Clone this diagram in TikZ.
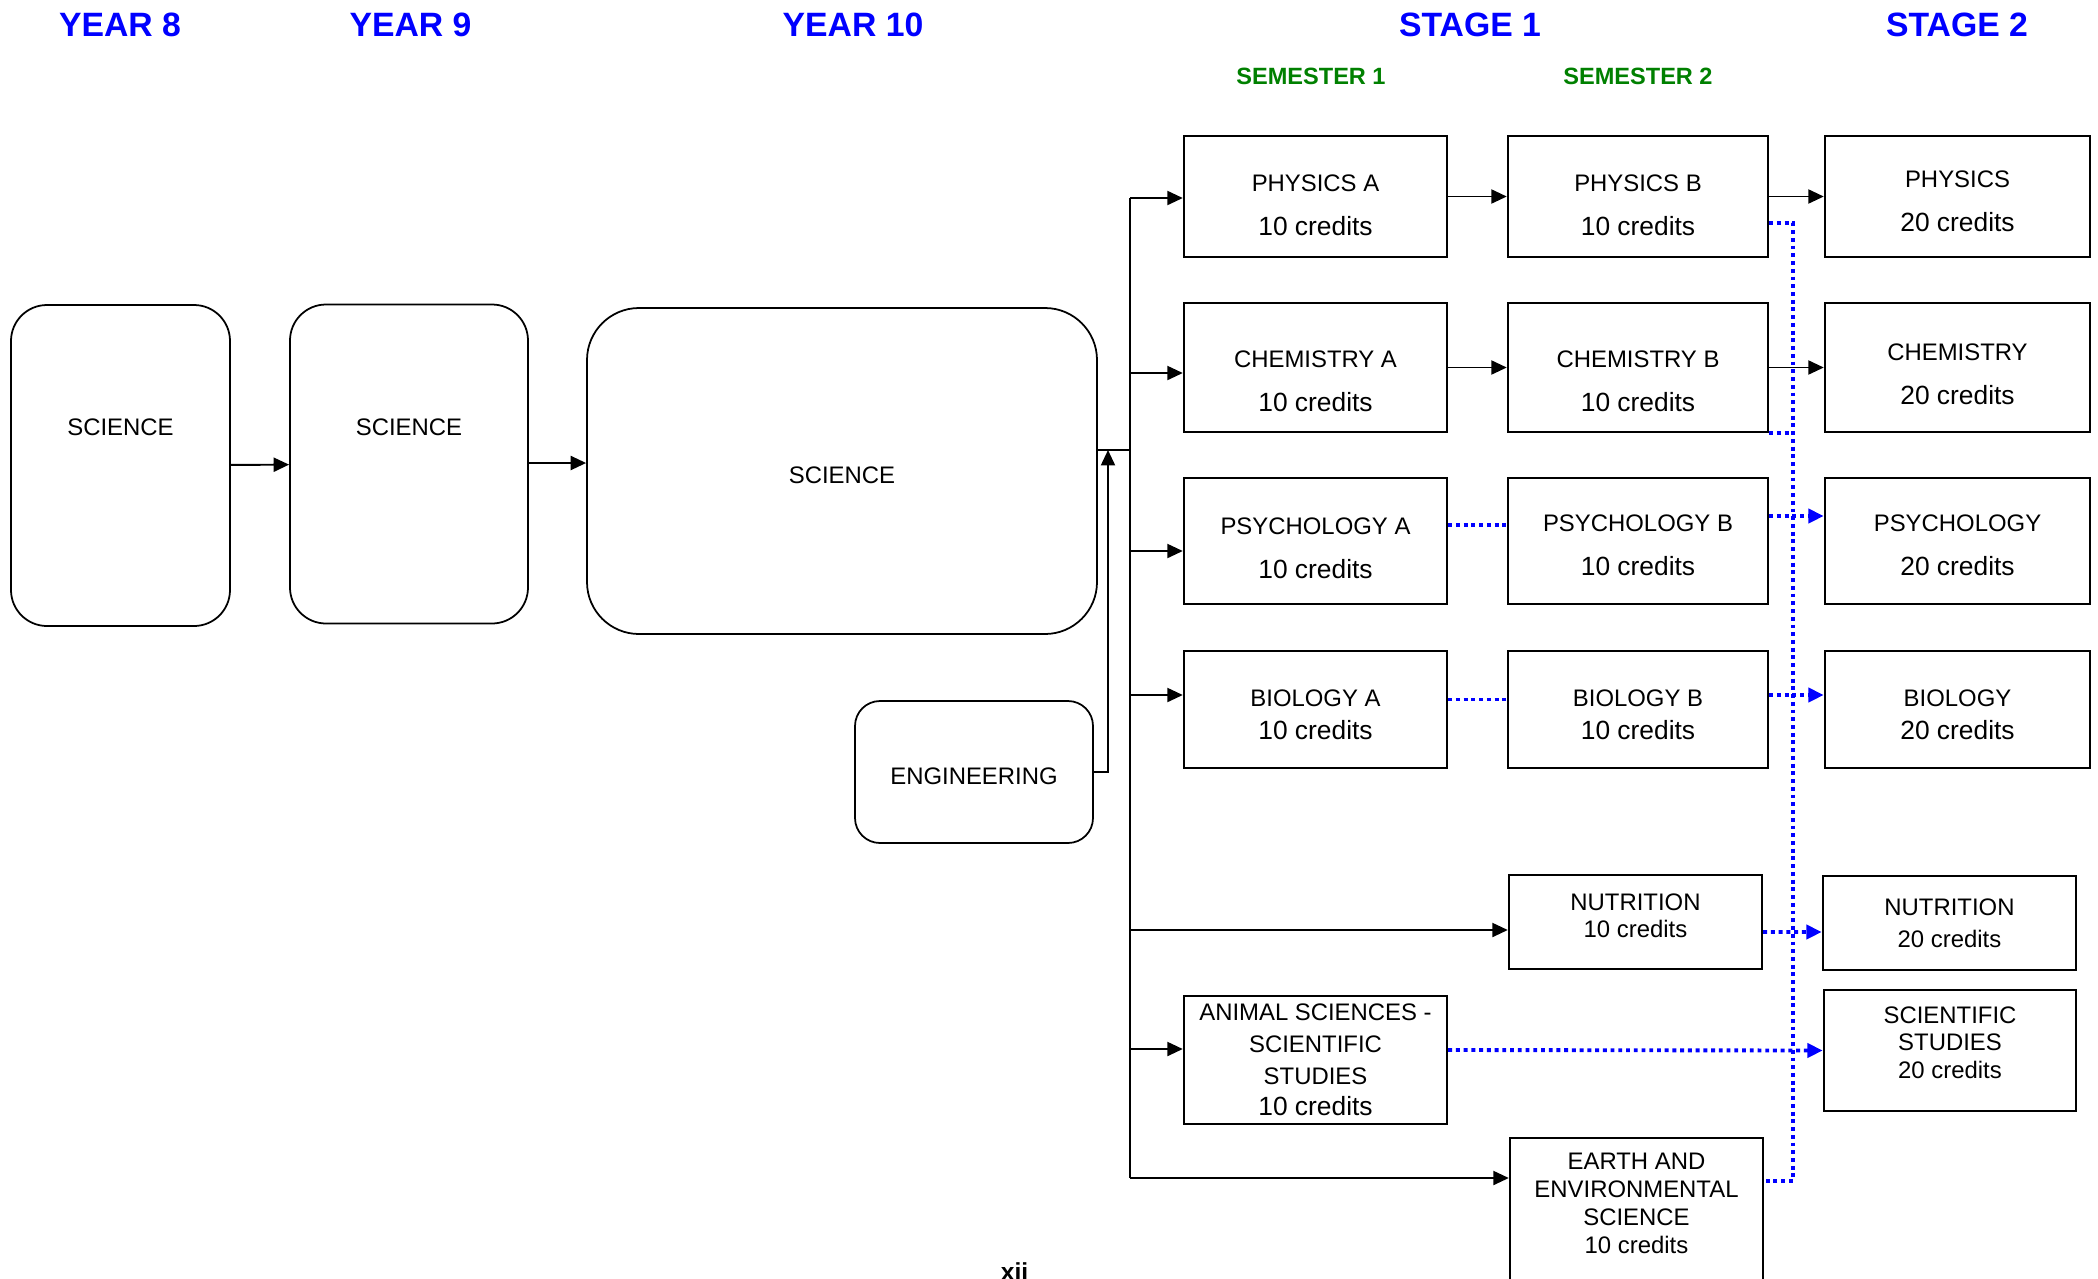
\documentclass[tikz,border=0pt]{standalone}
\usepackage{fontspec}
\setmainfont{Liberation Sans}
\usepackage{xcolor}
\usepackage{tikz}
\usetikzlibrary{positioning,arrows.meta}

\definecolor{headblue}{RGB}{0,0,255}
\definecolor{semgreen}{RGB}{0,128,0}
\newcommand{\credfont}{\fontsize{7.5}{9}\selectfont}

\begin{document}
\begin{tikzpicture}[
  yearbox/.style={draw, line width=0.5pt, rounded corners=#1, inner sep=0pt, font=\fontsize{6.8}{8.2}\selectfont},
  unitbox/.style={draw, line width=0.7pt, align=center, inner sep=0pt, font=\fontsize{6.8}{8.2}\selectfont},
  plain/.style={align=center, inner sep=0pt, font=\fontsize{6.8}{8.2}\selectfont},
  head/.style={text=headblue, inner sep=0pt, font=\fontsize{9.6}{11}\selectfont\bfseries},
  semhead/.style={text=semgreen, inner sep=0pt, font=\fontsize{6.7}{8}\selectfont\bfseries},
  link/.style={line width=0.55pt, -{Triangle[length=4.4pt,width=4pt]}},
  dots/.style={headblue, line width=1.1pt, dash pattern=on 1.1pt off 1.1pt},
  dotlink/.style={dots, -{Triangle[length=4.4pt,width=4pt]}},
  lift/.style={text depth=#1},
  sink/.style={text height=#1}
]
\fill[white] (0,0) rectangle (20.98,-12.78);
\useasboundingbox (0,0) rectangle (20.98,-12.78);

% headings
\node[head] (yr8) at (1.20,-0.245) {YEAR 8};
\node[head] (yr9) at (4.105,-0.245) {YEAR 9};
\node[head] (yr10) at (8.53,-0.245) {YEAR 10};
\node[head] (st1) at (14.70,-0.25) {STAGE 1};
\node[head] (st2) at (19.57,-0.25) {STAGE 2};
\node[semhead] (sem1) at (13.11,-0.765) {SEMESTER 1};
\node[semhead] (sem2) at (16.38,-0.765) {SEMESTER 2};

% school years
\node[yearbox=0.36cm, minimum width=2.19cm, minimum height=3.21cm] (y8) at (1.205,-4.655) {};
\node[plain] (y8t) at (1.205,-4.27) {SCIENCE};
\node[yearbox=0.36cm, minimum width=2.38cm, minimum height=3.19cm] (y9) at (4.09,-4.64) {};
\node[plain] (y9t) at (4.09,-4.27) {SCIENCE};
\node[yearbox=0.52cm, minimum width=5.10cm, minimum height=3.26cm, sink=7.3pt] (y10) at (8.42,-4.71) {SCIENCE};
\node[yearbox=0.25cm, minimum width=2.38cm, minimum height=1.42cm, sink=7.3pt] (eng) at (9.74,-7.72) {ENGINEERING};

% stage 1, semester 1
\node[unitbox, minimum width=2.63cm, minimum height=1.21cm, sink=22pt] (physA) at (13.155,-1.965) {PHYSICS A\\[4.3pt]{\credfont 10 credits}};
\node[unitbox, minimum width=2.63cm, minimum height=1.29cm, sink=25pt] (chemA) at (13.155,-3.675) {CHEMISTRY A\\[4.3pt]{\credfont 10 credits}};
\node[unitbox, minimum width=2.63cm, minimum height=1.26cm, sink=21.2pt] (psychA) at (13.155,-5.41) {PSYCHOLOGY A\\[4.3pt]{\credfont 10 credits}};
\node[unitbox, minimum width=2.63cm, minimum height=1.17cm, sink=17pt] (bioA) at (13.155,-7.095) {BIOLOGY A\\[1.2pt]{\credfont 10 credits}};
\node[unitbox, minimum width=2.63cm, minimum height=1.28cm] (animA) at (13.155,-10.60) {ANIMAL SCIENCES -\\[0.9pt]SCIENTIFIC\\[0.9pt]STUDIES\\[0.5pt]{\credfont 10 credits}};

% stage 1, semester 2
\node[unitbox, minimum width=2.60cm, minimum height=1.21cm, sink=22pt] (physB) at (16.38,-1.965) {PHYSICS B\\[4.3pt]{\credfont 10 credits}};
\node[unitbox, minimum width=2.60cm, minimum height=1.29cm, sink=25pt] (chemB) at (16.38,-3.675) {CHEMISTRY B\\[4.3pt]{\credfont 10 credits}};
\node[unitbox, minimum width=2.60cm, minimum height=1.26cm, sink=19.8pt] (psychB) at (16.38,-5.41) {PSYCHOLOGY B\\[4.3pt]{\credfont 10 credits}};
\node[unitbox, minimum width=2.60cm, minimum height=1.17cm, sink=17pt] (bioB) at (16.38,-7.095) {BIOLOGY B\\[1.2pt]{\credfont 10 credits}};
\node[unitbox, minimum width=2.53cm, minimum height=0.94cm, lift=3.8pt] (nutB) at (16.355,-9.22) {NUTRITION\\[-0.5pt]10 credits};
\node[unitbox, minimum width=2.53cm, minimum height=1.8cm, anchor=north] (earth) at (16.365,-11.37) {};
\node[plain] (eartht) at (16.365,-12.035) {EARTH AND\\[-0.2pt]ENVIRONMENTAL\\[-0.2pt]SCIENCE\\[-0.2pt]10 credits};

% stage 2
\node[unitbox, minimum width=2.65cm, minimum height=1.21cm, sink=19.8pt] (physC) at (19.575,-1.965) {PHYSICS\\[4.3pt]{\credfont 20 credits}};
\node[unitbox, minimum width=2.65cm, minimum height=1.29cm, sink=21.2pt] (chemC) at (19.575,-3.675) {CHEMISTRY\\[4.3pt]{\credfont 20 credits}};
\node[unitbox, minimum width=2.65cm, minimum height=1.26cm, sink=19.8pt] (psychC) at (19.575,-5.41) {PSYCHOLOGY\\[4.3pt]{\credfont 20 credits}};
\node[unitbox, minimum width=2.65cm, minimum height=1.17cm, sink=17pt] (bioC) at (19.575,-7.095) {BIOLOGY\\[1.2pt]{\credfont 20 credits}};
\node[unitbox, minimum width=2.53cm, minimum height=0.94cm] (nutC) at (19.495,-9.23) {NUTRITION\\[0.9pt]20 credits};
\node[unitbox, minimum width=2.52cm, minimum height=1.21cm, lift=4.6pt] (ssC) at (19.50,-10.505) {SCIENTIFIC\\[-0.4pt]STUDIES\\[-0.4pt]20 credits};

\node[font=\fontsize{7}{8}\selectfont\bfseries, anchor=base] (pgnum) at (10.145,-12.80) {xii};

% years
\draw[link] (y8) -- (y9);
\draw[link] (y9.east |- 0,-4.63) -- (y10.west |- 0,-4.63);

% into stage 1
\coordinate (jn) at (11.30,-4.50);
\coordinate (engup) at (11.08,-4.50);
\draw[line width=0.55pt] (y10.east |- jn) -- (jn);
\draw[link] (eng.east) -| (engup);
\coordinate (tphys) at (11.30,-1.98);
\coordinate (tearth) at (11.30,-11.78);
\draw[line width=0.55pt] (tphys) -- (tearth);
\foreach \n/\y in {physA/1.98, chemA/3.73, psychA/5.51, bioA/6.95, nutB/9.30, animA/10.49, earth/11.78}{
  \coordinate (t\n) at (11.30,-\y);
  \draw[link] (t\n) -- (\n.west |- t\n);
}

% semester 1 to semester 2
\draw[link] (physA) -- (physB);
\draw[link] (chemA) -- (chemB);
\draw[dots] ([yshift=0.16cm]psychA.east) -- ([yshift=0.16cm]psychB.west);
\draw[dots] ([yshift=0.10cm]bioA.east) -- ([yshift=0.10cm]bioB.west);

% to stage 2
\draw[link] (physB) -- (physC);
\draw[link] (chemB) -- (chemC);
\draw[dotlink] ([yshift=0.25cm]psychB.east) -- ([yshift=0.25cm]psychC.west);
\draw[dotlink] ([yshift=0.145cm]bioB.east) -- ([yshift=0.145cm]bioC.west);
\draw[dotlink] ([yshift=-0.10cm]nutB.east) -- ([yshift=-0.09cm]nutC.west);
\draw[dotlink] ([yshift=0.10cm]animA.east) -- (ssC.west);

\coordinate (vtop) at (17.93,-2.23);
\coordinate (vbot) at (17.93,-11.81);
\draw[dots] (physB.east |- vtop) -- (vtop) -- (vbot) -- (earth.east |- vbot);
\draw[dots] (chemB.south east) -- (chemB.south east -| vtop);

\end{tikzpicture}
\end{document}
